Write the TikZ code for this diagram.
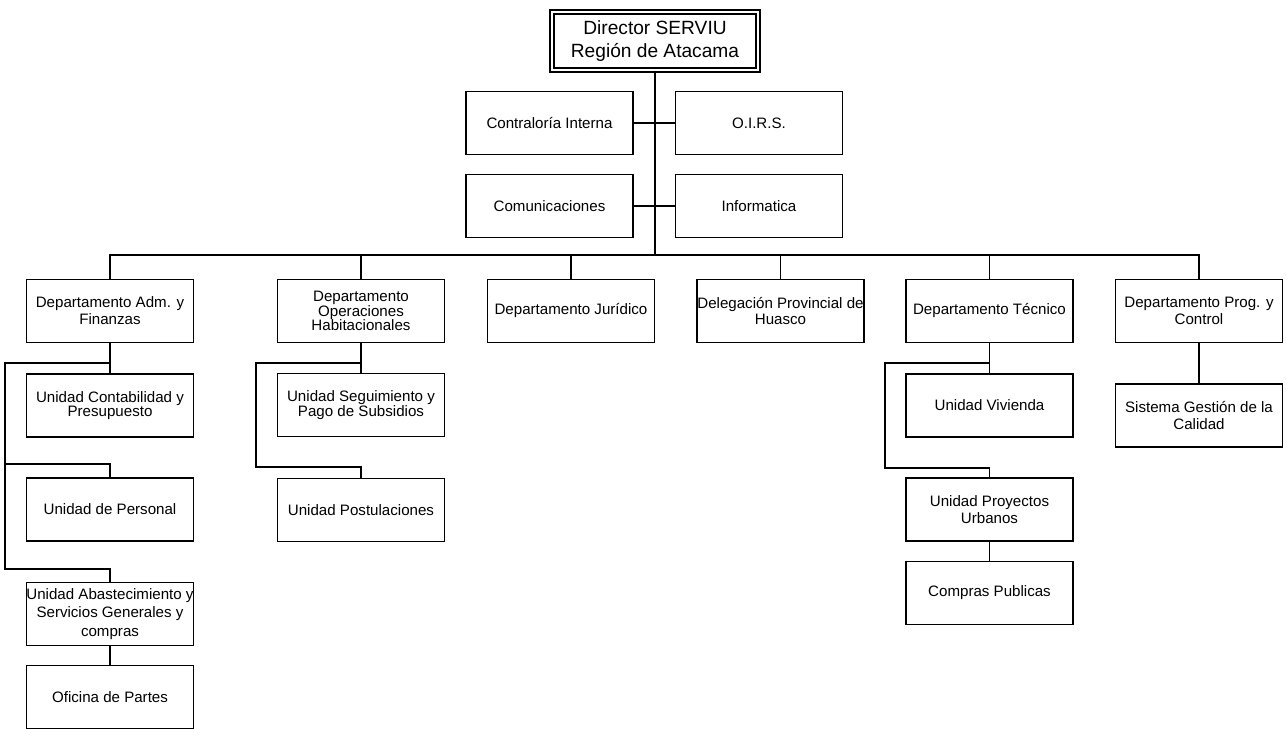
\documentclass[tikz,border=0pt]{standalone}
\usepackage{fontspec}
\setmainfont{Liberation Sans}
\usepackage{tikz}
\usetikzlibrary{positioning}

\begin{document}
\begin{tikzpicture}[x=0.02cm, y=-0.02cm,
    unit/.style={draw, line width=1pt, minimum width=3.34cm, minimum height=1.26cm, inner sep=0pt, align=center, font=\fontsize{8.6}{9.6}\selectfont},
    head/.style={draw, line width=0.7pt, double, double distance=1.6pt, minimum width=4.12cm, minimum height=1.16cm, inner sep=0pt, align=center, font=\fontsize{10.9}{12.6}\selectfont},
    link/.style={line width=1pt},
    trunk/.style={line width=1.7pt}]
    \useasboundingbox (0,0) rectangle (1286,729);

    % Director (top, centre)
    \node[head] (director) at (655,41) {Director SERVIU\\Región de Atacama};

    % Staff units beside the trunk
    \node[unit] (contraloria) at (549.5,123) {Contraloría Interna};
    \node[unit] (oirs) at (759,123) {O.I.R.S.};
    \node[unit] (comunicaciones) at (549.5,206) {Comunicaciones};
    \node[unit] (informatica) at (759,206) {Informatica};

    % Departments (one row)
    \node[unit] (adm) at (110,311) {Departamento Adm. y\\Finanzas};
    \node[unit] (operaciones) at (361,311) {Departamento\\[-1.5pt]Operaciones\\[-1.5pt]Habitacionales};
    \node[unit] (juridico) at (571,311) {Departamento Jurídico};
    \node[unit] (delegacion) at (780.5,311) {Delegación Provincial de\\Huasco};
    \node[unit] (tecnico) at (989.5,311) {Departamento Técnico};
    \node[unit] (prog) at (1199,311) {Departamento Prog. y\\Control};

    % Units under Adm. y Finanzas
    \node[unit] (contabilidad) at (110,405.5) {Unidad Contabilidad y\\[-1.5pt]Presupuesto};
    \node[unit] (personal) at (110,509.5) {Unidad de Personal};
    \node[unit] (abastecimiento) at (110,614) {Unidad Abastecimiento y\\[1pt]Servicios Generales y\\[1pt]compras};
    \node[unit] (partes) at (110,697) {Oficina de Partes};

    % Units under Operaciones Habitacionales
    \node[unit] (seguimiento) at (361,405) {Unidad Seguimiento y\\[-1.5pt]Pago de Subsidios};
    \node[unit] (postulaciones) at (361,510) {Unidad Postulaciones};

    % Units under Tecnico
    \node[unit] (vivienda) at (989.5,405.5) {Unidad Vivienda};
    \node[unit] (proyectos) at (989.5,509.5) {Unidad Proyectos\\Urbanos};
    \node[unit] (compras) at (989.5,593) {Compras Publicas};

    % Unit under Prog. y Control
    \node[unit] (calidad) at (1199,415.5) {Sistema Gestión de la\\Calidad};

    % Bus and turning points
    \coordinate (bus) at (655,255);
    \coordinate (adm-a) at (5,363);
    \coordinate (adm-b) at (5,464);
    \coordinate (adm-c) at (5,569);
    \coordinate (ope-a) at (256,363);
    \coordinate (ope-b) at (256,467);
    \coordinate (tec-a) at (885,363);
    \coordinate (tec-b) at (885,468);

    % Staff links
    \draw[link] (contraloria.east) -- (oirs.west);
    \draw[link] (comunicaciones.east) -- (informatica.west);

    % Department bus
    \draw[link] (adm.north) |- (bus) -| (prog.north);
    \foreach \d in {operaciones, juridico, delegacion, tecnico}
        \draw[link] (\d.north) -- (\d.north |- bus);
    \draw[trunk] (director.south) -- (bus);

    % Adm. y Finanzas
    \draw[link] (adm.south) -- (contabilidad.north);
    \draw[link] (adm.south |- adm-a) -- (adm-a) -- (adm-c) -| (abastecimiento.north);
    \draw[link] (adm-b) -| (personal.north);
    \draw[link] (abastecimiento) -- (partes);

    % Operaciones Habitacionales
    \draw[link] (operaciones.south) -- (seguimiento.north);
    \draw[link] (operaciones.south |- ope-a) -- (ope-a) -- (ope-b) -| (postulaciones.north);

    % Tecnico
    \draw[link] (tecnico.south) -- (vivienda.north);
    \draw[link] (tecnico.south |- tec-a) -- (tec-a) -- (tec-b) -| (proyectos.north);
    \draw[link] (proyectos) -- (compras);

    % Prog. y Control
    \draw[link] (prog) -- (calidad);
\end{tikzpicture}
\end{document}
